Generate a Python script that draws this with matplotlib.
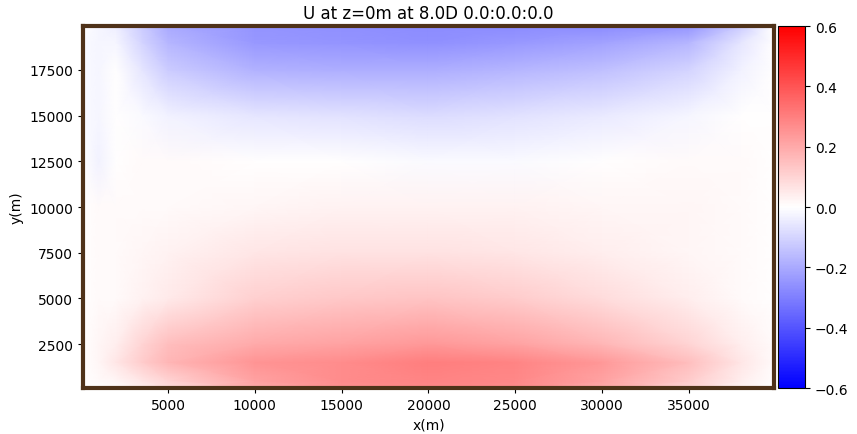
import numpy as np
import matplotlib
matplotlib.use("Agg")
import matplotlib.pyplot as plt

# grid nodes (m)
x_nodes = [100, 1000, 2000, 3500, 5000, 10000, 15000, 20000, 25000, 30000, 35000, 38000, 39900]
y_nodes = [100, 500, 1500, 2500, 5000, 7500, 10000, 12500, 15000, 17500, 19000, 19900]

# U (m/s), one row per y node (bottom -> top)
u_y100   = [0.00, 0.00, 0.01, 0.04, 0.08, 0.20, 0.26, 0.28, 0.27, 0.20, 0.10, 0.03, 0.00]
u_y500   = [0.00, 0.01, 0.02, 0.06, 0.10, 0.22, 0.27, 0.29, 0.28, 0.22, 0.12, 0.04, 0.00]
u_y1500  = [0.00, 0.02, 0.06, 0.12, 0.17, 0.25, 0.27, 0.30, 0.29, 0.24, 0.15, 0.06, 0.01]
u_y2500  = [0.00, 0.02, 0.04, 0.10, 0.15, 0.20, 0.22, 0.24, 0.22, 0.17, 0.10, 0.04, 0.01]
u_y5000  = [0.00, 0.01, 0.01, 0.03, 0.05, 0.11, 0.13, 0.14, 0.12, 0.08, 0.04, 0.01, 0.00]
u_y7500  = [0.00, 0.01, 0.01, 0.02, 0.03, 0.06, 0.07, 0.07, 0.06, 0.04, 0.02, 0.01, 0.00]
u_y10000 = [0.00, 0.01, 0.01, 0.01, 0.01, 0.02, 0.03, 0.03, 0.03, 0.02, 0.02, 0.01, 0.00]
u_y12500 = [0.00, -0.03, 0.00, 0.01, 0.01, 0.00, 0.00, -0.01, -0.01, 0.00, 0.01, 0.01, 0.00]
u_y15000 = [-0.01, -0.02, 0.00, -0.01, -0.03, -0.06, -0.07, -0.08, -0.07, -0.05, -0.02, 0.00, 0.00]
u_y17500 = [-0.01, -0.02, 0.00, -0.06, -0.12, -0.18, -0.19, -0.19, -0.17, -0.15, -0.10, -0.03, 0.00]
u_y19000 = [-0.01, -0.02, -0.02, -0.10, -0.17, -0.24, -0.25, -0.26, -0.24, -0.22, -0.17, -0.06, 0.00]
u_y19900 = [0.00, -0.02, -0.04, -0.12, -0.20, -0.25, -0.26, -0.27, -0.27, -0.27, -0.25, -0.12, 0.00]

U = np.array([u_y100, u_y500, u_y1500, u_y2500, u_y5000, u_y7500, u_y10000,
              u_y12500, u_y15000, u_y17500, u_y19000, u_y19900])

cbar_ticks = [-0.6, -0.4, -0.2, 0.0, 0.2, 0.4, 0.6]

fig = plt.figure(figsize=(8.57, 4.35), dpi=100)
ax = fig.add_axes([0.0969, 0.1057, 0.806, 0.832])
cax = fig.add_axes([0.9078, 0.1057, 0.0315, 0.832])

X, Y = np.meshgrid(x_nodes, y_nodes)
pc = ax.pcolormesh(X, Y, U, cmap="bwr", vmin=-0.6, vmax=0.6, shading="gouraud")
ax.set_xlim(x_nodes[0], x_nodes[-1])
ax.set_ylim(y_nodes[0], y_nodes[-1])
ax.set_xticks([5000, 10000, 15000, 20000, 25000, 30000, 35000])
ax.set_yticks([2500, 5000, 7500, 10000, 12500, 15000, 17500])
for s in ax.spines.values():
    s.set_color("#4f3219")
    s.set_linewidth(3)
ax.set_xlabel("x(m)")
ax.set_ylabel("y(m)")
ax.set_title("U at z=0m at 8.0D 0.0:0.0:0.0")

cb = fig.colorbar(pc, cax=cax, ticks=cbar_ticks)

fig.savefig("out.png", dpi=100)
